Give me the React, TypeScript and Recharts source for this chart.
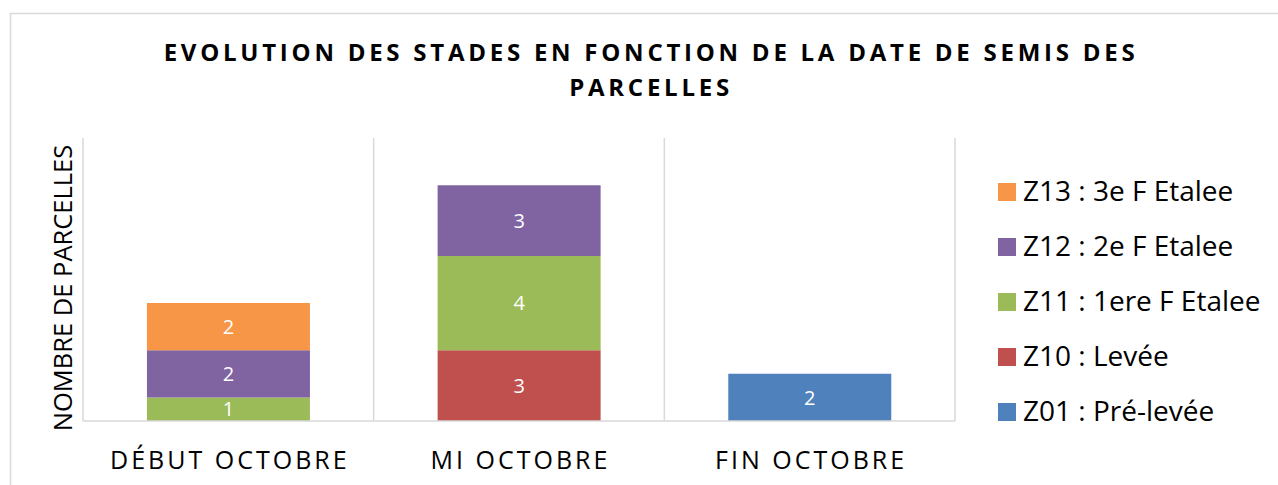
import { BarChart, Bar, XAxis, YAxis, CartesianGrid, LabelList } from 'recharts';

const categories = ['DÉBUT OCTOBRE', 'MI OCTOBRE', 'FIN OCTOBRE'];

// stack order, bottom to top
const seriesNames = [
  'Z01 : Pré-levée',
  'Z10 : Levée',
  'Z11 : 1ere F Etalee',
  'Z12 : 2e F Etalee',
  'Z13 : 3e F Etalee',
];
const seriesColors = ['#4F81BD', '#C0504D', '#9BBB59', '#8064A2', '#F79646'];

const z01 = [null, null, 2];
const z10 = [null, 3, null];
const z11 = [1, 4, null];
const z12 = [2, 3, null];
const z13 = [2, null, null];
const seriesValues = [z01, z10, z11, z12, z13];

const chartData = categories.map((cat, i) => {
  const row: Record<string, string | number | null> = { cat };
  seriesValues.forEach((vals, s) => {
    row['s' + s] = vals[i];
  });
  return row;
});

const FONT = '"Open Sans", Lato, sans-serif';
const W = 1278;
const H = 485;

function CatTick(props: any) {
  const { x, y, payload } = props;
  return (
    <text
      x={x + 1.5}
      y={y}
      dy={40}
      textAnchor="middle"
      fill="#000"
      fontSize={25}
      fontFamily={FONT}
      style={{ letterSpacing: 3 }}
    >
      {payload.value}
    </text>
  );
}

export default function App() {
  return (
    <div style={{ position: 'absolute', left: 0, top: 0, width: W, height: H, background: '#fff' }}>
      <BarChart
        width={W}
        height={H}
        data={chartData}
        margin={{ top: 138, right: 323, left: 83, bottom: 34 }}
        barCategoryGap="22%"
      >
        <CartesianGrid
          vertical
          horizontal={false}
          stroke="#d9d9d9"
          strokeWidth={1.5}
          verticalCoordinatesGenerator={({ offset }: any) =>
            [0, 1, 2, 3].map((i) => offset.left + (i * offset.width) / categories.length)
          }
        />
        <XAxis
          dataKey="cat"
          axisLine={{ stroke: '#d9d9d9', strokeWidth: 1.5 }}
          tickLine={false}
          tick={<CatTick />}
          interval={0}
        />
        <YAxis hide domain={[0, 12]} />
        {seriesNames.map((name, s) => (
          <Bar
            key={name}
            dataKey={'s' + s}
            name={name}
            stackId="a"
            fill={seriesColors[s]}
            isAnimationActive={false}
          >
            <LabelList
              dataKey={'s' + s}
              position="center"
              fill="#fff"
              fontSize={20}
              fontFamily={FONT}
              formatter={(v: any) => (v ? v : '')}
            />
          </Bar>
        ))}
      </BarChart>

      <svg
        width={W}
        height={H}
        style={{ position: 'absolute', left: 0, top: 0, pointerEvents: 'none' }}
      >
        <rect x={10.5} y={13.5} width={W} height={H} fill="none" stroke="#d9d9d9" strokeWidth={1.5} />
        <text
          x={651}
          y={61}
          textAnchor="middle"
          fontSize={24}
          fontWeight="bold"
          fontFamily={FONT}
          style={{ letterSpacing: 3.75 }}
        >
          EVOLUTION DES STADES EN FONCTION DE LA DATE DE SEMIS DES
        </text>
        <text
          x={651}
          y={96}
          textAnchor="middle"
          fontSize={24}
          fontWeight="bold"
          fontFamily={FONT}
          style={{ letterSpacing: 3.75 }}
        >
          PARCELLES
        </text>
        <text
          x={0}
          y={0}
          transform="translate(72 288) rotate(-90)"
          textAnchor="middle"
          fontSize={25.5}
          fontFamily={FONT}
        >
          NOMBRE DE PARCELLES
        </text>
        {seriesNames
          .map((name, s) => ({ name, color: seriesColors[s] }))
          .reverse()
          .map((item, i) => (
            <g key={item.name}>
              <rect x={998} y={183 + i * 55} width={18} height={18} fill={item.color} />
              <text x={1023} y={201 + i * 55} fontSize={28} fontFamily={FONT} fill="#000">
                {item.name}
              </text>
            </g>
          ))}
      </svg>
    </div>
  );
}
